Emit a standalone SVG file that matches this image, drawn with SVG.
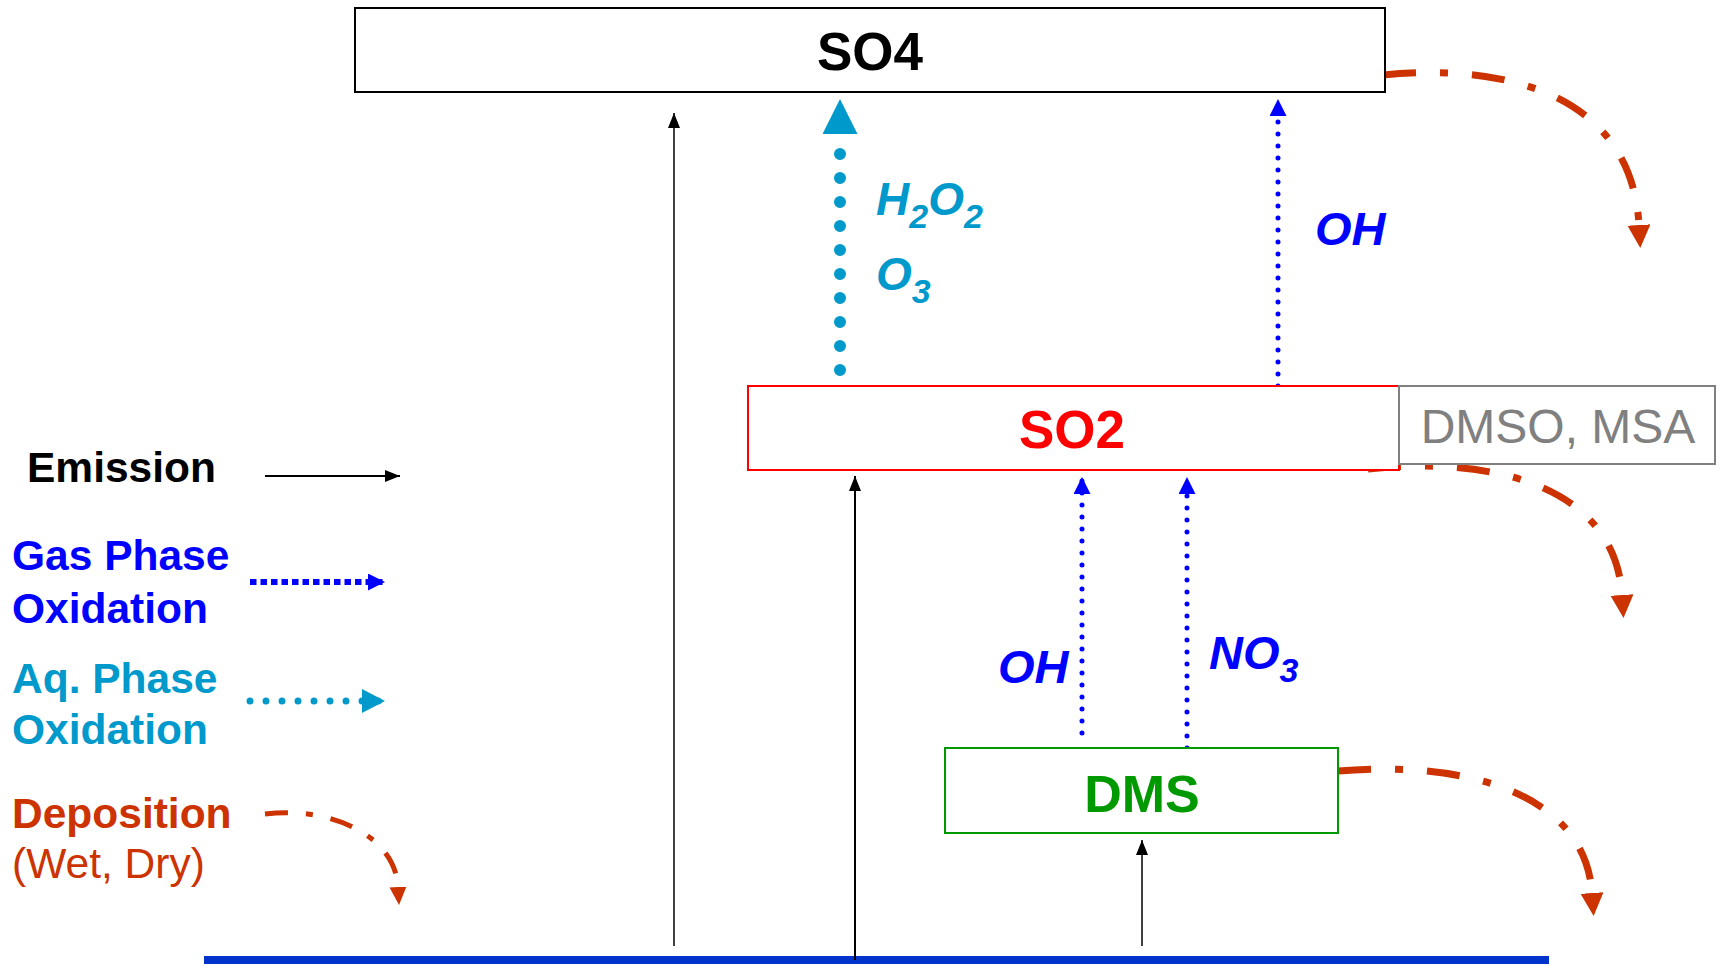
<svg xmlns="http://www.w3.org/2000/svg" width="1723" height="964" viewBox="0 0 1723 964">
<style>
text{font-family:"Liberation Sans",Arial,sans-serif}
.b{font-weight:bold}
.bi{font-weight:bold;font-style:italic}
.box{fill:#fff;stroke-width:2}
.emis{stroke:#000;fill:none}
.gas{stroke:#0000FF;stroke-width:5;stroke-dasharray:0 12;stroke-linecap:round;fill:none}
.aq{stroke:#0099CC;stroke-width:12;stroke-dasharray:0 24;stroke-linecap:round;fill:none}
.dep{stroke:#CC3300;stroke-width:7;stroke-dasharray:33 24 8 24;fill:none}
</style>
<defs>
<marker id="ahBlack" markerUnits="userSpaceOnUse" markerWidth="16" markerHeight="12" refX="15" refY="6" orient="auto"><path d="M0,0 L15,6 L0,12 z" fill="#000"/></marker>
<marker id="ahBlue" markerUnits="userSpaceOnUse" markerWidth="18" markerHeight="18" refX="17" refY="8.5" orient="auto"><path d="M0,0 L17,8.5 L0,17 z" fill="#0000FF"/></marker>
<marker id="ahAq" markerUnits="userSpaceOnUse" markerWidth="36" markerHeight="36" refX="4" refY="17.5" orient="auto"><path d="M0,0 L35,17.5 L0,35 z" fill="#0099CC"/></marker>
<marker id="ahAqS" markerUnits="userSpaceOnUse" markerWidth="24" markerHeight="24" refX="23" refY="12" orient="auto"><path d="M0,0 L23,12 L0,24 z" fill="#0099CC"/></marker>
<marker id="ahDep" markerUnits="userSpaceOnUse" markerWidth="24" markerHeight="24" refX="0" refY="11.5" orient="auto"><path d="M0,0 L23,11.5 L0,23 z" fill="#CC3300"/></marker>
<marker id="ahDepS" markerUnits="userSpaceOnUse" markerWidth="19" markerHeight="18" refX="0" refY="8.5" orient="auto"><path d="M0,0 L18,8.5 L0,17 z" fill="#CC3300"/></marker>
</defs>
<rect width="1723" height="964" fill="#fff"/>

<g id="ground"><rect x="204" y="956" width="1345" height="8" fill="#0033CC"/></g>

<g id="connectors">
<line class="emis" x1="674" y1="946" x2="674" y2="113" stroke-width="1.5" marker-end="url(#ahBlack)"/>
<line class="emis" x1="855" y1="960" x2="855" y2="476" stroke-width="2" marker-end="url(#ahBlack)"/>
<line class="emis" x1="1142" y1="946" x2="1142" y2="840" stroke-width="1.5" marker-end="url(#ahBlack)"/>
<line class="aq" x1="840" y1="370" x2="840" y2="130" marker-end="url(#ahAq)"/>
<line class="gas" x1="1278" y1="386" x2="1278" y2="99" marker-end="url(#ahBlue)"/>
<line class="gas" x1="1082" y1="733" x2="1082" y2="477" marker-end="url(#ahBlue)"/>
<line class="gas" x1="1187" y1="748" x2="1187" y2="477" marker-end="url(#ahBlue)"/>
<path class="dep" d="M1383,75 C1515,62 1632,100 1639,225" marker-end="url(#ahDep)"/>
<path class="dep" d="M1368,469 C1500,455 1615,490 1622,595" marker-end="url(#ahDep)"/>
<path class="dep" d="M1338,771 C1470,760 1585,795 1592,893" marker-end="url(#ahDep)"/>
</g>

<g id="so4"><rect class="box" x="355" y="8" width="1030" height="84" stroke="#000"/>
<text class="b" x="870" y="70" font-size="53" text-anchor="middle" fill="#000">SO4</text></g>

<g id="so2"><rect class="box" x="748" y="386" width="651" height="84" stroke="#FF0000"/>
<text class="b" x="1072" y="448" font-size="53" text-anchor="middle" fill="#FF0000">SO2</text></g>

<g id="dmso"><rect class="box" x="1399" y="386" width="316" height="78" stroke="#808080"/>
<text x="1558" y="443" font-size="48" text-anchor="middle" fill="#808080">DMSO, MSA</text></g>

<g id="dms"><rect class="box" x="945" y="748" width="393" height="85" stroke="#009900"/>
<text class="b" x="1142" y="812" font-size="52" text-anchor="middle" fill="#009900">DMS</text></g>

<g id="labels">
<text class="bi" x="876" y="215" font-size="46" fill="#0099CC">H<tspan dy="13" font-size="34">2</tspan><tspan dy="-13">O</tspan><tspan dy="13" font-size="34">2</tspan></text>
<text class="bi" x="876" y="290" font-size="46" fill="#0099CC">O<tspan dy="13" font-size="34">3</tspan></text>
<text class="bi" x="1315" y="245" font-size="47" fill="#0000FF">OH</text>
<text class="bi" x="998" y="683" font-size="47" fill="#0000FF">OH</text>
<text class="bi" x="1209" y="669" font-size="47" fill="#0000FF">NO<tspan dy="13" font-size="34">3</tspan></text>
</g>

<g id="legend">
<text class="b" x="27" y="482" font-size="42.5" fill="#000">Emission</text>
<line class="emis" x1="265" y1="476" x2="400" y2="476" stroke-width="2" marker-end="url(#ahBlack)"/>
<text class="b" x="12" y="570" font-size="42.5" fill="#0000FF">Gas Phase</text>
<text class="b" x="12" y="623" font-size="42.5" fill="#0000FF">Oxidation</text>
<line x1="250" y1="582" x2="385" y2="582" stroke="#0000FF" stroke-width="6" stroke-dasharray="6.5 4" marker-end="url(#ahBlue)"/>
<text class="b" x="12" y="693" font-size="42.5" fill="#0099CC">Aq. Phase</text>
<text class="b" x="12" y="744" font-size="42.5" fill="#0099CC">Oxidation</text>
<line x1="250" y1="701" x2="385" y2="701" stroke="#0099CC" stroke-width="7" stroke-dasharray="0 16" stroke-linecap="round" marker-end="url(#ahAqS)"/>
<text class="b" x="12" y="828" font-size="42.5" fill="#CC3300">Deposition</text>
<text x="12" y="878" font-size="42.5" fill="#CC3300">(Wet, Dry)</text>
<path d="M265,814 C330,806 395,835 398,887" stroke="#CC3300" stroke-width="5" stroke-dasharray="23 18 7 18" fill="none" marker-end="url(#ahDepS)"/>
</g>
</svg>
